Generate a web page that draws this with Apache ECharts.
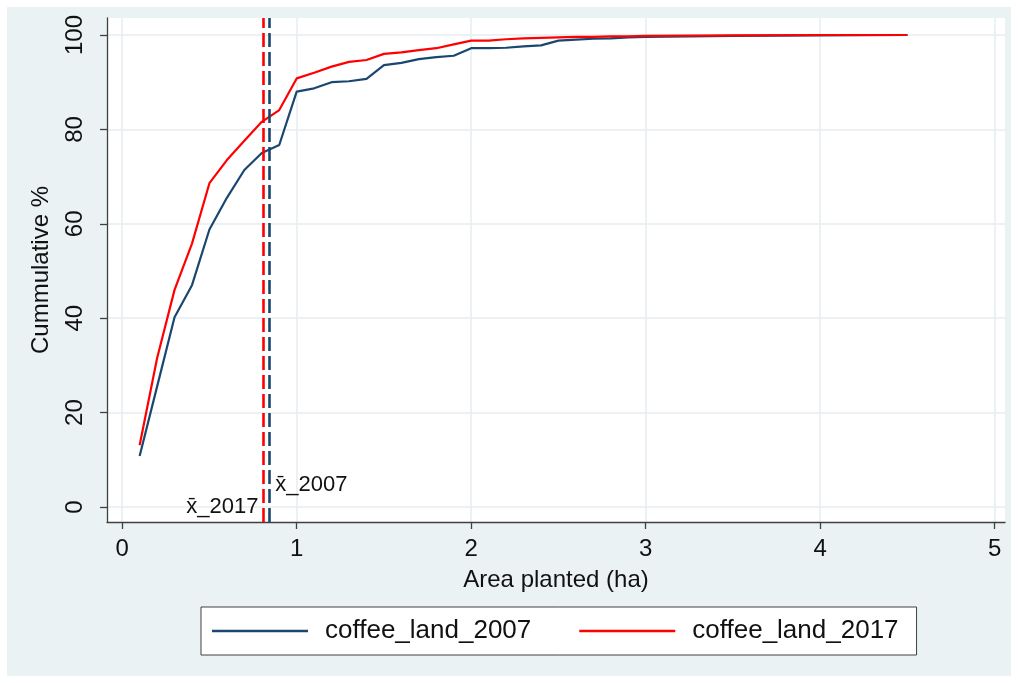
<!DOCTYPE html>
<html>
<head>
<meta charset="utf-8">
<script src="https://cdn.jsdelivr.net/npm/echarts@6/dist/echarts.min.js"></script>
<style>
html,body{margin:0;padding:0;background:#ffffff;}
#chart{width:1018px;height:683px;}
</style>
</head>
<body>
<div id="chart"></div>
<script>
// Area planted (ha)
var areaX = [0.1,0.2,0.3,0.4,0.5,0.6,0.7,0.8,0.9,1.0,
             1.1,1.2,1.3,1.4,1.5,1.6,1.7,1.8,1.9,2.0,
             2.1,2.2,2.3,2.4,2.5,2.6,2.7,2.8,2.9,3.0,
             3.5,4.0,4.5];
// Cumulative %
var land2007 = [10.8,25.5,40.2,47.0,58.8,65.5,71.4,75.0,76.7,88.0,
                88.7,90.0,90.2,90.7,93.6,94.1,94.9,95.3,95.6,97.2,
                97.2,97.3,97.6,97.8,98.8,99.0,99.2,99.3,99.5,99.6,
                99.8,99.9,100];
var land2017 = [13.1,31.5,46.0,55.8,68.6,73.5,77.6,81.6,84.1,90.8,
                92.0,93.3,94.3,94.7,96.0,96.3,96.8,97.2,98.0,98.8,
                98.8,99.1,99.3,99.4,99.5,99.6,99.6,99.7,99.7,99.8,
                99.9,100,100];
var seriesNames = ['coffee_land_2007','coffee_land_2017'];
var meanX = [0.837, 0.81];           // x̄_2007, x̄_2017
var meanLabels = ['x\u0304_2007','x\u0304_2017'];
var meanLabelY = [4.7, 0];
var meanLabelSide = ['right','left'];
var xTicks = [0,1,2,3,4,5];
var yTicks = [0,20,40,60,80,100];

var navy = '#1a476f', red = '#ff0000';
var FONT = 'Liberation Sans, Arial, sans-serif';
var TXT = '#111111';

function pairs(xs, ys){ return xs.map(function(x,i){ return [x, ys[i]]; }); }

var chart = echarts.init(document.getElementById('chart'), null, {renderer:'canvas'});
chart.setOption({
  backgroundColor:'#ffffff',
  animation:false,
  graphic:[{type:'rect', z:-100, silent:true,
    shape:{x:7,y:7,width:1004,height:669}, style:{fill:'#eaf2f3'}}],
  grid:{left:107, right:13, top:18, bottom:161, show:true,
        backgroundColor:'#ffffff', borderWidth:0},
  xAxis:{type:'value', min:-0.087, max:5.059,
    name:'Area planted (ha)', nameLocation:'middle', nameGap:46,
    nameTextStyle:{fontFamily:FONT, fontSize:24, color:TXT},
    axisLine:{show:true, onZero:false, lineStyle:{color:'#404040', width:1.3}},
    axisTick:{show:true, customValues:xTicks, length:7, lineStyle:{color:'#404040', width:1.3}},
    axisLabel:{customValues:xTicks, margin:15, fontFamily:FONT, fontSize:24, color:TXT},
    splitLine:{show:true, lineStyle:{color:'#e6eef0', width:1.5}}
  },
  yAxis:{type:'value', min:-3.18, max:103.6,
    name:'Cummulative %', nameLocation:'middle', nameGap:54,
    nameTextStyle:{fontFamily:FONT, fontSize:24, color:TXT},
    axisLine:{show:true, onZero:false, lineStyle:{color:'#404040', width:1.3}},
    axisTick:{show:true, customValues:yTicks, length:7, lineStyle:{color:'#404040', width:1.3}},
    axisLabel:{customValues:yTicks, rotate:90, margin:20, fontFamily:FONT, fontSize:24, color:TXT},
    splitLine:{show:true, lineStyle:{color:'#e6eef0', width:1.5}}
  },
  legend:{left:201, top:607, orient:'horizontal',
    data:seriesNames, icon:'rect', itemWidth:96, itemHeight:2.5, itemGap:48,
    padding:[11,18,11,11], backgroundColor:'#ffffff', borderColor:'#404040', borderWidth:1,
    textStyle:{fontFamily:FONT, fontSize:26, color:TXT, padding:[0,0,0,12]}
  },
  series:[
    {name:seriesNames[0], type:'line', data:pairs(areaX, land2007), showSymbol:false,
     lineStyle:{color:navy, width:2.2}, itemStyle:{color:navy}, z:3,
     markLine:{silent:true, symbol:'none', label:{show:false},
       lineStyle:{color:navy, type:[14,5], width:2.6}, data:[{xAxis:meanX[0]}]}},
    {name:seriesNames[1], type:'line', data:pairs(areaX, land2017), showSymbol:false,
     lineStyle:{color:red, width:2.2}, itemStyle:{color:red}, z:4,
     markLine:{silent:true, symbol:'none', label:{show:false},
       lineStyle:{color:red, type:[14,5], width:2.6}, data:[{xAxis:meanX[1]}]}},
    {name:'meanlabels', type:'custom', silent:true, z:5,
     data:meanX.map(function(x,i){ return [x, meanLabelY[i], i]; }),
     renderItem:function(params, api){
       var i = api.value(2);
       var p = api.coord([api.value(0), api.value(1)]);
       var right = meanLabelSide[i] === 'right';
       return {type:'text', x:p[0] + (right ? 7 : -5), y:p[1],
         style:{text:meanLabels[i], fill:TXT, font:'22px ' + FONT,
                textAlign: right ? 'left' : 'right', textVerticalAlign:'middle'}};
     }}
  ]
});
</script>
</body>
</html>
